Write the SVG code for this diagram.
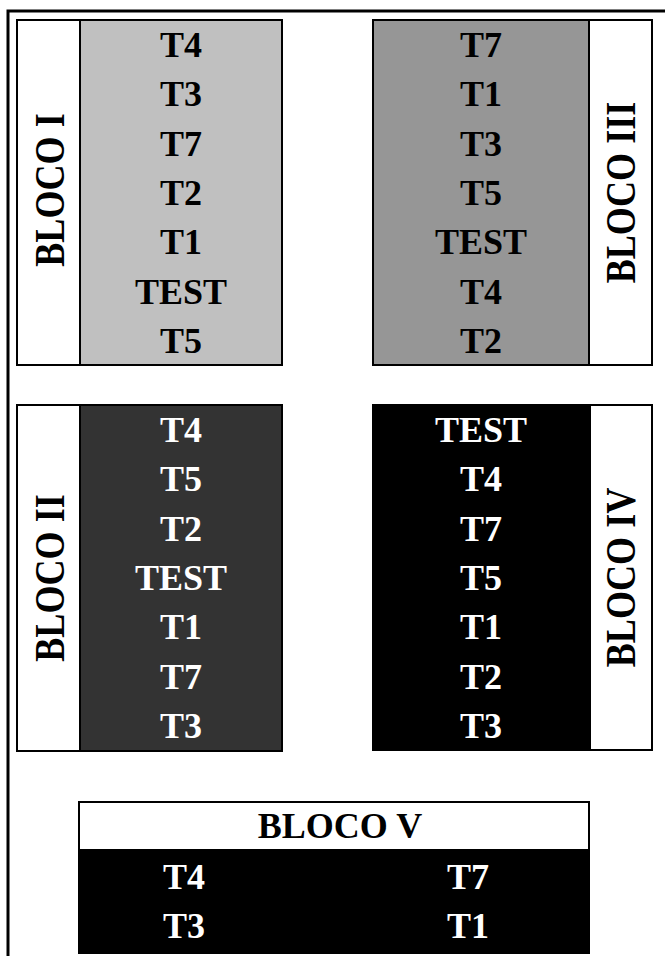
<svg xmlns="http://www.w3.org/2000/svg" width="665" height="956" viewBox="0 0 665 956">
<style>
.t{font-family:"Liberation Serif","Times New Roman",serif;font-weight:bold;font-size:36px;text-anchor:middle}
.l{font-size:42px}
.k{fill:#000}
.w{fill:#fff}
.b{stroke:#000;stroke-width:2}
</style>
<rect x="0" y="0" width="665" height="956" fill="#fff"/>
<path d="M8,956 V11 H665" fill="none" stroke="#000" stroke-width="3"/>
<g id="bloco1">
<rect class="b" x="17" y="20" width="63" height="345" fill="#fff"/>
<rect class="b" x="80" y="20" width="202" height="345" fill="#c0c0c0"/>
<text class="t l k" transform="translate(50,190) rotate(-90) scale(0.86,1)" x="0" y="14">BLOCO I</text>
<text class="t k" x="181" y="57">T4</text>
<text class="t k" x="181" y="106">T3</text>
<text class="t k" x="181" y="156">T7</text>
<text class="t k" x="181" y="205">T2</text>
<text class="t k" x="181" y="254">T1</text>
<text class="t k" x="181" y="304">TEST</text>
<text class="t k" x="181" y="353">T5</text>
</g>
<g id="bloco3">
<rect class="b" x="589" y="20" width="63" height="345" fill="#fff"/>
<rect class="b" x="373" y="20" width="216" height="345" fill="#969696"/>
<text class="t l k" transform="translate(621,192.5) rotate(-90) scale(0.86,1)" x="0" y="14">BLOCO III</text>
<text class="t k" x="481" y="57">T7</text>
<text class="t k" x="481" y="106">T1</text>
<text class="t k" x="481" y="156">T3</text>
<text class="t k" x="481" y="205">T5</text>
<text class="t k" x="481" y="254">TEST</text>
<text class="t k" x="481" y="304">T4</text>
<text class="t k" x="481" y="353">T2</text>
</g>
<g id="bloco2">
<rect class="b" x="17" y="405" width="63" height="346" fill="#fff"/>
<rect class="b" x="80" y="405" width="202" height="346" fill="#333"/>
<text class="t l k" transform="translate(50,578) rotate(-90) scale(0.86,1)" x="0" y="14">BLOCO II</text>
<text class="t w" x="181" y="442">T4</text>
<text class="t w" x="181" y="491">T5</text>
<text class="t w" x="181" y="541">T2</text>
<text class="t w" x="181" y="590">TEST</text>
<text class="t w" x="181" y="639">T1</text>
<text class="t w" x="181" y="689">T7</text>
<text class="t w" x="181" y="738">T3</text>
</g>
<g id="bloco4">
<rect class="b" x="590" y="405" width="62" height="345" fill="#fff"/>
<rect class="b" x="373" y="405" width="217" height="345" fill="#000"/>
<text class="t l k" transform="translate(621,577.5) rotate(-90) scale(0.86,1)" x="0" y="14">BLOCO IV</text>
<text class="t w" x="481" y="442">TEST</text>
<text class="t w" x="481" y="491">T4</text>
<text class="t w" x="481" y="541">T7</text>
<text class="t w" x="481" y="590">T5</text>
<text class="t w" x="481" y="639">T1</text>
<text class="t w" x="481" y="689">T2</text>
<text class="t w" x="481" y="738">T3</text>
</g>
<g id="bloco5">
<rect class="b" x="79" y="802" width="510" height="151" fill="#000"/>
<rect class="b" x="79" y="802" width="510" height="48" fill="#fff"/>
<text class="t k" x="340" y="838">BLOCO V</text>
<text class="t w" x="184" y="889">T4</text>
<text class="t w" x="184" y="938">T3</text>
<text class="t w" x="468" y="889">T7</text>
<text class="t w" x="468" y="938">T1</text>
</g>
<g id="connectors"></g>
</svg>
